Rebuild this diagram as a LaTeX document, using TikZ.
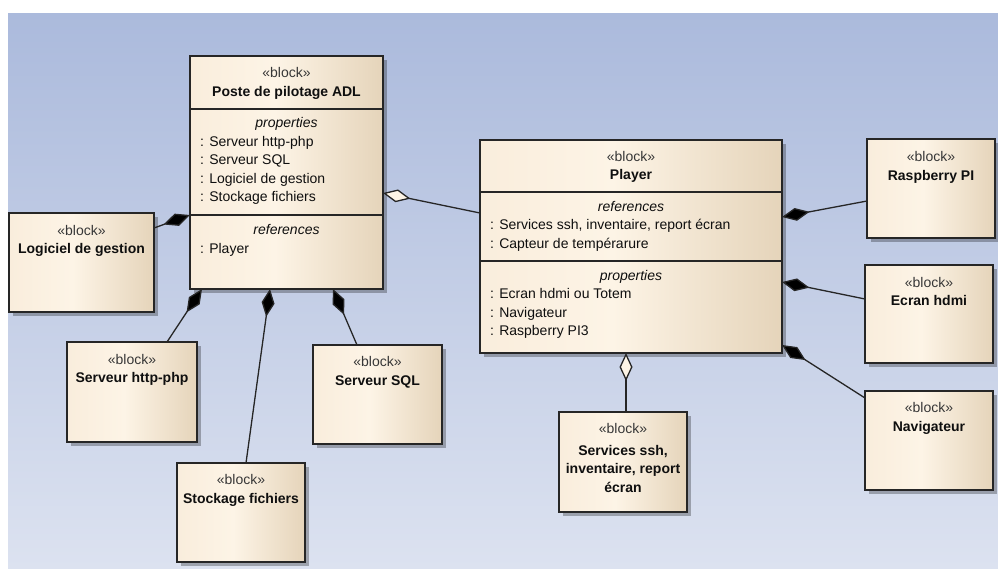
\documentclass[tikz,border=0pt]{standalone}
\usepackage{fontspec}
\setmainfont{Liberation Sans}
\usetikzlibrary{arrows.meta,shadows}
\definecolor{bgtop}{RGB}{171,186,220}
\definecolor{bgbot}{RGB}{220,226,240}
\definecolor{bl}{RGB}{249,237,220}
\definecolor{bm}{RGB}{253,244,230}
\definecolor{br}{RGB}{229,212,186}
\definecolor{edge}{RGB}{38,38,38}
\definecolor{txt}{RGB}{15,15,15}
\definecolor{stereo}{RGB}{55,55,55}
\pgfdeclarehorizontalshading{blockshade}{100bp}{color(0bp)=(bl); color(25bp)=(bl); color(47bp)=(bm); color(75bp)=(br); color(100bp)=(br)}
\tikzset{
  block/.style={rectangle, draw=edge, line width=1.3pt, shade, shading=blockshade,
    inner sep=0pt, outer sep=0pt, anchor=north west,
    drop shadow={shadow xshift=4pt, shadow yshift=-4pt, fill=black, opacity=0.28}},
  sepline/.style={draw=edge, line width=1.2pt},
  stereo/.style={inner sep=0pt, anchor=mid, text=stereo},
  ttl/.style={inner sep=0pt, anchor=mid, text=txt, font=\bfseries},
  cpt/.style={inner sep=0pt, anchor=mid, text=txt, font=\itshape},
  item/.style={inner sep=0pt, anchor=mid west, text=txt},
  comp/.style={draw=edge, line width=1.3pt, {Diamond[length=28pt,width=13pt,fill=black]}-},
  agg/.style={draw=edge, line width=1.3pt, {Diamond[length=28pt,width=13pt,fill=bm]}-}
}
\begin{document}
\begin{tikzpicture}[x=1pt,y=-1pt]
\fontsize{14}{18.5}\selectfont
\useasboundingbox (0,0) rectangle (998,568);
\fill[top color=bgtop, bottom color=bgbot] (8,13) rectangle (998,568);

% Poste de pilotage ADL
\node[block, minimum width=193pt, minimum height=233pt] (poste) at (190,56) {};
\draw[sepline] ([yshift=-53pt]poste.north west) -- ([yshift=-53pt]poste.north east);
\draw[sepline] ([yshift=-159pt]poste.north west) -- ([yshift=-159pt]poste.north east);
\node[stereo] (poste-s) at (286.5,73.5) {«block»};
\node[ttl] (poste-t) at (286.5,92.5) {Poste de pilotage ADL};
\node[cpt] (poste-p) at (286.5,123.5) {properties};
\node[item] (poste-p1) at (200,142.5) {: Serveur http-php};
\node[item] (poste-p2) at (200,161) {: Serveur SQL};
\node[item] (poste-p3) at (200,179.5) {: Logiciel de gestion};
\node[item] (poste-p4) at (200,198) {: Stockage fichiers};
\node[cpt] (poste-r) at (286.5,230.5) {references};
\node[item] (poste-r1) at (200,249.5) {: Player};

% Player
\node[block, minimum width=302pt, minimum height=213pt] (player) at (480,140) {};
\draw[sepline] ([yshift=-52pt]player.north west) -- ([yshift=-52pt]player.north east);
\draw[sepline] ([yshift=-121pt]player.north west) -- ([yshift=-121pt]player.north east);
\node[stereo] (player-s) at (631,157.5) {«block»};
\node[ttl] (player-t) at (631,176) {Player};
\node[cpt] (player-r) at (631,207.5) {references};
\node[item] (player-r1) at (490,226) {: Services ssh, inventaire, report écran};
\node[item] (player-r2) at (490,244.5) {: Capteur de tempérarure};
\node[cpt] (player-p) at (631,276.5) {properties};
\node[item] (player-p1) at (490,295) {: Ecran hdmi ou Totem};
\node[item] (player-p2) at (490,313.5) {: Navigateur};
\node[item] (player-p3) at (490,332) {: Raspberry PI3};

% Simple blocks
\node[block, minimum width=145pt, minimum height=99pt] (logiciel) at (9,213) {};
\node[stereo] (logiciel-s) at (81.5,231.5) {«block»};
\node[ttl] (logiciel-t) at (81.5,249.5) {Logiciel de gestion};

\node[block, minimum width=130pt, minimum height=100pt] (http) at (67,342) {};
\node[stereo] (http-s) at (132,360.5) {«block»};
\node[ttl] (http-t) at (132,379) {Serveur http-php};

\node[block, minimum width=129pt, minimum height=99pt] (sql) at (313,345) {};
\node[stereo] (sql-s) at (377.5,363) {«block»};
\node[ttl] (sql-t) at (377.5,381.5) {Serveur SQL};

\node[block, minimum width=128pt, minimum height=99pt] (stock) at (177,463) {};
\node[stereo] (stock-s) at (241,481) {«block»};
\node[ttl] (stock-t) at (241,499.5) {Stockage fichiers};

\node[block, minimum width=128pt, minimum height=100pt] (serv) at (559,412) {};
\node[stereo] (serv-s) at (623,430) {«block»};
\node[ttl, anchor=center, align=center] (serv-t) at (623,468.5) {Services ssh,\\inventaire, report\\écran};

\node[block, minimum width=128pt, minimum height=99pt] (rasp) at (867,139) {};
\node[stereo] (rasp-s) at (931,158) {«block»};
\node[ttl] (rasp-t) at (931,176.5) {Raspberry PI};

\node[block, minimum width=128pt, minimum height=98pt] (ecran) at (865,265) {};
\node[stereo] (ecran-s) at (929,283.5) {«block»};
\node[ttl] (ecran-t) at (929,302) {Ecran hdmi};

\node[block, minimum width=128pt, minimum height=99pt] (nav) at (865,391) {};
\node[stereo] (nav-s) at (929,409) {«block»};
\node[ttl] (nav-t) at (929,427.5) {Navigateur};

% Connectors
\draw[comp] ([yshift=-159pt]poste.north west) -- ([yshift=-15pt]logiciel.north east);
\draw[comp] ([xshift=12pt]poste.south west) -- ([xshift=100pt]http.north west);
\draw[comp] ([xshift=80pt]poste.south west) -- ([xshift=69pt]stock.north west);
\draw[comp] ([xshift=143pt]poste.south west) -- ([xshift=44pt]sql.north west);
\draw[agg] ([yshift=-137pt]poste.north east) -- ([yshift=-73pt]player.north west);
\draw[agg] ([xshift=146pt]player.south west) -- ([xshift=67pt]serv.north west);
\draw[comp] ([yshift=-77pt]player.north east) -- ([yshift=-62pt]rasp.north west);
\draw[comp] ([yshift=-142pt]player.north east) -- ([yshift=-34pt]ecran.north west);
\draw[comp] ([yshift=-205pt]player.north east) -- ([yshift=-7pt]nav.north west);
\end{tikzpicture}
\end{document}
